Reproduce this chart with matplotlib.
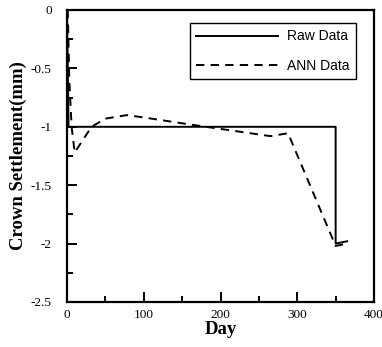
import matplotlib
matplotlib.use("Agg")
import matplotlib.pyplot as plt
from matplotlib.ticker import MultipleLocator

raw_day = [0, 2, 350, 350, 365]
raw_val = [0, -1.0, -1.0, -2.0, -1.98]

ann_day = [1, 3, 6, 10, 20, 32, 50, 78, 100, 160, 265, 288, 350, 365]
ann_val = [0, -0.6, -1.0, -1.22, -1.12, -1.0, -0.93, -0.90, -0.92, -0.98, -1.08, -1.055, -2.02, -2.0]

x_ticks = [0, 100, 200, 300, 400]
y_ticks = [0, -0.5, -1, -1.5, -2, -2.5]
y_labels = ["0", "-0.5", "-1", "-1.5", "-2", "-2.5"]

fig = plt.figure(figsize=(3.82, 3.47), dpi=100)
ax = fig.add_axes([67/382, 45/347, 307/382, 292/347])

ax.plot(raw_day, raw_val, color="black", lw=1.4, label="Raw Data")
ax.plot(ann_day, ann_val, color="black", lw=1.4, ls=(0, (4.3, 3.2)), label="ANN Data")

ax.set_xlim(0, 400)
ax.set_ylim(-2.5, 0)
ax.set_xticks(x_ticks)
ax.set_yticks(y_ticks)
ax.set_yticklabels(y_labels)
ax.xaxis.set_minor_locator(MultipleLocator(50))
ax.yaxis.set_minor_locator(MultipleLocator(0.25))

serif = "Liberation Serif"
for lab in ax.get_xticklabels() + ax.get_yticklabels():
    lab.set_fontfamily(serif)
    lab.set_fontsize(9.5)

ax.tick_params(which="both", direction="in", top=False, right=False, width=1.4)
ax.tick_params(axis="y", which="both", pad=11)
ax.tick_params(axis="x", which="both", pad=5)
ax.tick_params(which="major", length=7)
ax.tick_params(which="minor", length=4)
for s in ax.spines.values():
    s.set_linewidth(1.6)

ax.set_xlabel("Day", fontfamily=serif, fontweight="bold", fontsize=13.5, labelpad=0)
ax.set_ylabel("Crown Settlement(mm)", fontfamily=serif, fontweight="bold", fontsize=13.5, labelpad=3)

leg = ax.legend(loc="upper right", bbox_to_anchor=(0.941, 0.955), fancybox=False,
                edgecolor="black", framealpha=1, borderaxespad=0,
                prop={"family": "Liberation Sans", "size": 10},
                handlelength=5.9, handletextpad=0.65, borderpad=0.45, labelspacing=1.1)
leg.get_frame().set_linewidth(1.0)

fig.savefig("out.png", dpi=100)
